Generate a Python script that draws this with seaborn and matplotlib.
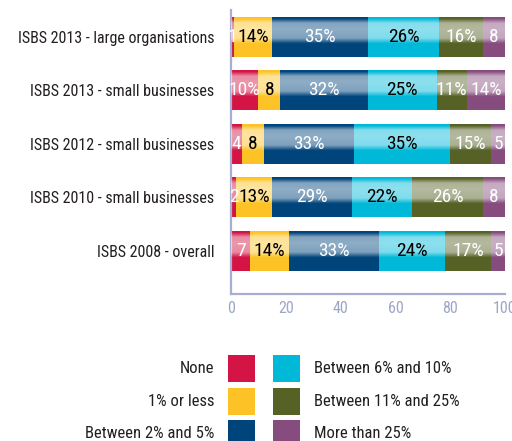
import numpy as np
import pandas as pd
import matplotlib
matplotlib.use("Agg")
import matplotlib.pyplot as plt
from matplotlib import font_manager as fm
from matplotlib.patches import Rectangle
import seaborn as sns

# ---- data ----
groups = ["ISBS 2013 - large organisations", "ISBS 2013 - small businesses",
          "ISBS 2012 - small businesses", "ISBS 2010 - small businesses",
          "ISBS 2008 - overall"]
categories = ["None", "1% or less", "Between 2% and 5%",
              "Between 6% and 10%", "Between 11% and 25%", "More than 25%"]
none_vals = [1, 10, 4, 2, 7]
one_or_less = [14, 8, 8, 13, 14]
two_to_five = [35, 32, 33, 29, 33]
six_to_ten = [26, 25, 35, 22, 24]
eleven_to_25 = [16, 11, 15, 26, 17]
more_than_25 = [8, 14, 5, 8, 5]
xticks = [0, 20, 40, 60, 80, 100]

colors = ["#d31444", "#fdc326", "#00447c", "#00b9d9", "#566126", "#864c7e"]
text_colors = ["white", "black", "white", "black", "white", "white"]

sns.set_theme(style="white")

def pick_font():
    for name in ["Liberation Sans Narrow", "Roboto Condensed", "DejaVu Sans Condensed"]:
        try:
            fm.findfont(fm.FontProperties(family=name), fallback_to_default=False)
            return name
        except Exception:
            pass
    return "DejaVu Sans"

FONT = pick_font()
plt.rcParams["font.family"] = [FONT, "DejaVu Sans"]

vals = np.array([none_vals, one_or_less, two_to_five, six_to_ten,
                 eleven_to_25, more_than_25])  # (6, 5)
cum = np.cumsum(vals, axis=0)

W, H = 512, 441
fig = plt.figure(figsize=(W / 100, H / 100), dpi=100)
ax = fig.add_axes([231 / W, (H - 294) / H, 274 / W, 284 / H])

# overlay stacking: draw the largest cumulative totals first
for i in range(len(categories) - 1, -1, -1):
    df = pd.DataFrame({"group": groups, "value": cum[i]})
    sns.barplot(data=df, x="value", y="group", order=groups, color=colors[i],
                width=0.748, saturation=1, ax=ax, zorder=2, linewidth=0)

# glossy gradient overlay, one per row, clipped to the full row bar
t = np.linspace(0, 1, 200)
alpha = np.interp(t, [0, 0.06, 0.17, 0.32, 0.54, 0.67, 1.0],
                  [0.0, 0.0, 0.52, 0.56, 0.5, 0.0, 0.0])
grad = np.zeros((200, 2, 4))
grad[..., :3] = 1.0
grad[..., 3] = alpha[:, None]
n = len(groups)
full_bars = ax.patches[:n]
for p in full_bars:
    x0, y0 = p.get_x(), p.get_y()
    w, h = p.get_width(), p.get_height()
    im = ax.imshow(grad, extent=[x0, x0 + w, y0 + h, y0], aspect="auto",
                   interpolation="bilinear", zorder=3)
    im.set_clip_path(p)

# value labels
for r in range(n):
    for i in range(len(categories)):
        v = vals[i, r]
        xc = cum[i, r] - v / 2
        lab = f"{v}%" if v >= 10 else f"{v}"
        ax.text(xc, r, lab, ha="center", va="center", fontsize=14,
                color=text_colors[i], zorder=4)

ax.set_xlim(0, 100)
ax.set_ylim(4.81, -0.5)
ax.set_xticks(xticks)
ax.set_xticklabels([str(v) for v in xticks])
ax.set_xlabel("")
ax.set_ylabel("")
axis_col = "#a7aed0"
for s in ["top", "right"]:
    ax.spines[s].set_visible(False)
for s in ["left", "bottom"]:
    ax.spines[s].set_color(axis_col)
    ax.spines[s].set_linewidth(1.6)
ax.tick_params(axis="x", direction="in", length=4.5, width=1.2, color=axis_col,
               labelcolor="#9ea6c6", labelsize=11.5, pad=5)
ax.tick_params(axis="y", length=0, labelsize=11.5, labelcolor="#231f20", pad=12)
for lbl in ax.get_xticklabels():
    lbl.set_clip_on(False)

# legend (two columns: labels left of swatches in col 1, right in col 2)
for j, (lab, col) in enumerate(zip(categories, colors)):
    c, r = divmod(j, 3)
    px = 228 if c == 0 else 273
    py = 355 + r * 32.5
    fig.add_artist(Rectangle((px / W, 1 - (py + 27) / H), 27 / W, 27 / H,
                             transform=fig.transFigure, facecolor=col,
                             edgecolor="none"))
    yc = 1 - (py + 13.5) / H
    if c == 0:
        fig.text(214 / W, yc, lab, ha="right", va="center", fontsize=12,
                 color="#231f20")
    else:
        fig.text(314 / W, yc, lab, ha="left", va="center", fontsize=12,
                 color="#231f20")

fig.savefig("out.png", dpi=100, facecolor="white")
